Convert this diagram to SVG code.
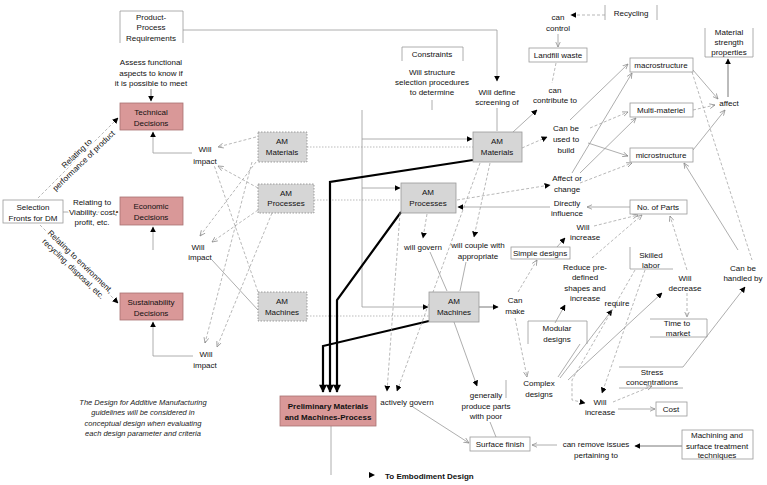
<svg xmlns="http://www.w3.org/2000/svg" width="767" height="485" viewBox="0 0 767 485">
<style>
text{font-family:"Liberation Sans",Arial,sans-serif;font-size:8px;fill:#111;text-anchor:middle}
.b{font-weight:bold}
.i{font-style:italic;font-size:7.5px;fill:#222}
.h{paint-order:stroke;stroke:#fff;stroke-width:3px;stroke-linejoin:round}
.box{fill:#fff;stroke:#999;stroke-width:0.8}
.pk{fill:#d99898;stroke:#a87272;stroke-width:0.8}
.am{fill:#d6d6d6;stroke:#888;stroke-width:0.8;stroke-dasharray:1.5,1.5}
.ln{fill:none;stroke:#999;stroke-width:0.8}
.ds{fill:none;stroke:#999;stroke-width:0.7;stroke-dasharray:3,2}
.dt{fill:none;stroke:#aaa;stroke-width:0.8;stroke-dasharray:1.5,1.5}
.dk{fill:none;stroke:#555;stroke-width:0.8}
.tk{fill:none;stroke:#000;stroke-width:2.2}
.br{fill:none;stroke:#999;stroke-width:0.8}
</style>
<defs>
<marker id="fa" viewBox="0 0 10 10" refX="9" refY="5" markerWidth="6" markerHeight="6" markerUnits="userSpaceOnUse" orient="auto"><path d="M0,0 L10,5 L0,10 z" fill="#000"/></marker>
<marker id="oa" viewBox="0 0 10 10" refX="9" refY="5" markerWidth="6" markerHeight="6" markerUnits="userSpaceOnUse" orient="auto"><path d="M0,1 L9,5 L0,9" fill="none" stroke="#888" stroke-width="1.2"/></marker>
<marker id="ta" viewBox="0 0 10 10" refX="9" refY="5" markerWidth="9" markerHeight="8" markerUnits="userSpaceOnUse" orient="auto"><path d="M0,0 L10,5 L0,10 z" fill="#000"/></marker>
</defs>

<g id="connectors">
<path class="ln" d="M183,30 H497 V81" marker-end="url(#fa)"/>
<path class="dk" d="M151,89 V101" marker-end="url(#fa)"/>
<path class="ln" d="M192,153 H153 V132" marker-end="url(#fa)"/>
<path class="ln" d="M153,250 V227" marker-end="url(#fa)"/>
<path class="ln" d="M193,356 H153 V322" marker-end="url(#fa)"/>
<path class="ds" d="M38,198 L118,118" marker-end="url(#fa)"/>
<path class="ln" d="M63,212 H118" marker-end="url(#fa)"/>
<path class="ds" d="M40,225 L118,303" marker-end="url(#fa)"/>

<path class="ds" d="M256,137 L218,147" marker-end="url(#oa)"/>
<path class="ds" d="M258,188 L218,166" marker-end="url(#oa)"/>
<path class="ds" d="M258,292 L214,165"/>
<path class="ds" d="M256,162 L200,236" marker-end="url(#oa)"/>
<path class="ds" d="M258,210 L212,242" marker-end="url(#oa)"/>
<path class="ln" d="M258,310 L212,260"/>
<path class="ds" d="M252,162 L205,343" marker-end="url(#oa)"/>
<path class="ds" d="M272,213 L217,347" marker-end="url(#oa)"/>

<path class="dt" d="M307,147 H473"/>
<path class="dt" d="M314,200 H401"/>
<path class="dt" d="M307,316 H429"/>
<path class="ln" d="M362,110 V307 H428" marker-end="url(#fa)"/>
<path class="ln" d="M362,139 H472" marker-end="url(#fa)"/>
<path class="ln" d="M362,188 H400" marker-end="url(#fa)"/>
<path class="ln" d="M432,100 V110"/>
<path class="ln" d="M497,108 V131"/>

<path class="tk" d="M473,160 L330,182 V392" marker-end="url(#ta)"/>
<path class="tk" d="M401,212 L337,300 V392" marker-end="url(#ta)"/>
<path class="tk" d="M429,321 L323,346 V392" marker-end="url(#ta)"/>

<path class="ds" d="M605,15 H571" marker-end="url(#fa)"/>
<path class="ln" d="M558,34 V47" marker-end="url(#oa)"/>
<path class="ds" d="M556,63 L552,83"/>
<path class="ln" d="M513,132 L537,110" marker-end="url(#fa)"/>
<path class="ds" d="M522,148 L547,137" marker-end="url(#fa)"/>
<path class="ln" d="M570,120 L628,64" marker-end="url(#oa)"/>
<path class="ln" d="M572,173 L632,73" marker-end="url(#oa)"/>
<path class="ds" d="M590,128 L628,112" marker-end="url(#oa)"/>
<path class="ln" d="M580,173 L636,118" marker-end="url(#oa)"/>
<path class="ln" d="M588,143 L628,156" marker-end="url(#oa)"/>
<path class="ds" d="M580,183 L632,163" marker-end="url(#oa)"/>
<path class="dk" d="M728,97 V59" marker-end="url(#fa)"/>
<path class="ln" d="M693,70 L718,99" marker-end="url(#oa)"/>
<path class="ds" d="M693,110 L715,105" marker-end="url(#oa)"/>
<path class="ln" d="M693,150 L725,110" marker-end="url(#oa)"/>
<path class="ds" d="M692,72 L752,260"/>
<path class="ln" d="M738,250 L684,163" marker-end="url(#oa)"/>
<path class="ln" d="M683,367 L745,287" marker-end="url(#fa)"/>
<path class="ds" d="M457,200 L550,185" marker-end="url(#fa)"/>
<path class="ln" d="M550,207 H458" marker-end="url(#fa)"/>
<path class="ln" d="M630,207 H587" marker-end="url(#oa)"/>
<path class="ds" d="M594,226 L638,215" marker-end="url(#oa)"/>
<path class="ln" d="M557,247 L565,238" marker-end="url(#fa)"/>
<path class="ds" d="M518,292 L537,260" marker-end="url(#oa)"/>
<path class="dk" d="M479,307 H498" marker-end="url(#fa)"/>
<path class="ds" d="M592,258 L642,215" marker-end="url(#oa)"/>
<path class="ln" d="M555,323 L565,305" marker-end="url(#fa)"/>
<path class="ds" d="M515,318 L527,377" marker-end="url(#oa)"/>
<path class="ln" d="M580,344 L558,377"/>
<path class="ln" d="M560,378 L612,310" marker-end="url(#fa)"/>
<path class="ln" d="M568,380 L662,293" marker-end="url(#fa)"/>
<path class="ds" d="M687,270 L670,216" marker-end="url(#oa)"/>
<path class="ds" d="M687,293 V317" marker-end="url(#oa)"/>
<path class="ds" d="M645,270 L602,393" marker-end="url(#fa)"/>
<path class="ds" d="M635,270 L572,380 V400 L585,403" marker-end="url(#fa)"/>
<path class="ds" d="M613,402 L652,386" marker-end="url(#oa)"/>
<path class="ln" d="M618,409 H655" marker-end="url(#oa)"/>
<path class="ln" d="M454,322 L477,386" marker-end="url(#fa)"/>
<path class="ln" d="M490,422 L496,437"/>
<path class="ds" d="M400,213 L387,391" marker-end="url(#fa)"/>
<path class="ds" d="M480,163 L397,391" marker-end="url(#fa)"/>
<path class="ds" d="M490,163 L474,237" marker-end="url(#fa)"/>
<path class="ds" d="M427,214 L423,238" marker-end="url(#fa)"/>
<path class="ln" d="M430,252 L447,291"/>
<path class="ln" d="M466,262 L460,291"/>
<path class="ln" d="M413,407 L469,443" marker-end="url(#oa)"/>
<path class="ln" d="M557,445 H532" marker-end="url(#oa)"/>
<path class="dk" d="M682,446 H635" marker-end="url(#fa)"/>
<path class="ln" d="M331,426 V475"/>
<path d="M369,472 L375,475 L369,478 z" fill="#000"/>
</g>

<g id="product-process-requirements">
<path class="br" d="M120,43 V11 H183 V43"/>
<text x="151" y="20">Product-</text><text x="151" y="30">Process</text><text x="151" y="41">Requirements</text>
</g>
<g id="assess-label"><text x="151" y="65">Assess functional</text><text x="151" y="76">aspects to know if</text><text x="151" y="86">it is possible to meet</text></g>
<g id="technical-decisions"><rect class="pk" x="120" y="103" width="63" height="27"/><text x="151" y="115" fill="#333">Technical</text><text x="151" y="126">Decisions</text></g>
<g id="economic-decisions"><rect class="pk" x="120" y="197" width="63" height="28"/><text x="151" y="209">Economic</text><text x="151" y="220">Decisions</text></g>
<g id="sustainability-decisions"><rect class="pk" x="120" y="293" width="63" height="27"/><text x="151" y="305">Sustainability</text><text x="151" y="316">Decisions</text></g>
<g id="selection-fronts"><rect class="box" x="3" y="200" width="60" height="23"/><text x="33" y="210">Selection</text><text x="33" y="221">Fronts for DM</text></g>
<g id="label-performance" transform="translate(80,157) rotate(-44)"><text class="h" x="0" y="-2">Relating to</text><text class="h" x="0" y="8">performance of product</text></g>
<g id="label-viability"><text class="h" x="92" y="205">Relating to</text><text class="h" x="93" y="215">Viability. cost,</text><text class="h" x="92" y="225">profit, etc.</text></g>
<g id="label-environment" transform="translate(77,265) rotate(44)"><text class="h" x="0" y="-2">Relating to environment,</text><text class="h" x="0" y="8">recycling, disposal, etc.</text></g>
<g id="will-impact-1"><text x="205" y="152">Will</text><text x="205" y="164">impact</text></g>
<g id="will-impact-2"><text x="198" y="250">Will</text><text x="200" y="260">impact</text></g>
<g id="will-impact-3"><text x="206" y="357">Will</text><text x="205" y="368">impact</text></g>

<g id="am-materials-left"><rect class="am" x="258" y="132" width="49" height="30"/><text x="282" y="144">AM</text><text x="282" y="155">Materials</text></g>
<g id="am-processes-left"><rect class="am" x="258" y="184" width="56" height="29"/><text x="286" y="196">AM</text><text x="286" y="206">Processes</text></g>
<g id="am-machines-left"><rect class="am" x="258" y="292" width="49" height="29"/><text x="282" y="304">AM</text><text x="282" y="315">Machines</text></g>

<g id="constraints"><path class="br" d="M402,61 V47 H463 V61"/><text x="432" y="57">Constraints</text><text x="432" y="75">Will structure</text><text x="432" y="85">selection procedures</text><text x="432" y="95">to determine</text></g>
<g id="will-define"><text x="497" y="95">Will define</text><text x="497" y="105">screening of</text></g>

<g id="am-materials-right"><rect x="473" y="132" width="49" height="30" fill="#d6d6d6" stroke="#999" stroke-width="0.8"/><text x="497" y="144">AM</text><text x="497" y="155">Materials</text></g>
<g id="am-processes-right"><rect x="401" y="183" width="55" height="30" fill="#d6d6d6" stroke="#999" stroke-width="0.8"/><text x="428" y="195">AM</text><text x="428" y="206">Processes</text></g>
<g id="am-machines-right"><rect x="429" y="292" width="50" height="30" fill="#d6d6d6" stroke="#999" stroke-width="0.8"/><text x="454" y="304">AM</text><text x="454" y="315">Machines</text></g>

<g id="recycling"><path class="br" d="M605,5 V20 M657,5 V20"/><text x="631" y="16">Recycling</text></g>
<g id="can-control"><text x="558" y="20">can</text><text x="558" y="31">control</text></g>
<g id="landfill-waste"><rect class="box" x="529" y="48" width="58" height="14"/><text x="558" y="58">Landfill waste</text></g>
<g id="can-contribute"><text x="555" y="93">can</text><text x="555" y="103">contribute to</text></g>
<g id="can-be-used"><text x="566" y="131">Can be</text><text x="566" y="142">used to</text><text x="566" y="153">build</text></g>
<g id="material-strength"><path class="br" d="M705,28 V57 H753 V28"/><text x="729" y="35">Material</text><text x="729" y="45">strength</text><text x="729" y="55">properties</text></g>
<g id="macrostructure"><rect class="box" x="630" y="58" width="63" height="14"/><text x="661" y="68">macrostructure</text></g>
<g id="multi-materiel"><rect class="box" x="630" y="103" width="63" height="14"/><text x="661" y="113">Multi-materiel</text></g>
<g id="microstructure"><rect class="box" x="630" y="148" width="63" height="14"/><text x="661" y="158">microstructure</text></g>
<g id="affect"><text x="729" y="106">affect</text></g>
<g id="can-be-handled"><text x="743" y="271">Can be</text><text x="743" y="281">handled by</text></g>
<g id="affect-or-change"><text x="567" y="181">Affect or</text><text x="567" y="192">change</text></g>
<g id="directly-influence"><text x="567" y="206">Directly</text><text x="567" y="216">influence</text></g>
<g id="no-of-parts"><rect class="box" x="630" y="200" width="57" height="14"/><text x="658" y="210">No. of Parts</text></g>
<g id="will-increase-1"><text x="583" y="230">Will</text><text x="585" y="240">increase</text></g>
<g id="simple-designs"><rect class="box" x="511" y="247" width="59" height="12"/><text x="540" y="256">Simple designs</text></g>
<g id="can-make"><text x="515" y="303">Can</text><text x="515" y="314">make</text></g>
<g id="reduce"><text x="585" y="270">Reduce pre-</text><text x="585" y="280">defined</text><text x="585" y="291">shapes and</text><text x="585" y="301">increase</text></g>
<g id="modular-designs"><path class="br" d="M528,344 V321 H587 V344"/><text x="557" y="331">Modular</text><text x="557" y="342">designs</text></g>
<g id="skilled-labor"><path class="br" d="M630,247 V269 H673"/><text x="651" y="258">Skilled</text><text x="651" y="268">labor</text></g>
<g id="require"><text x="617" y="306">require</text></g>
<g id="will-decrease"><text x="685" y="281">Will</text><text x="685" y="291">decrease</text></g>
<g id="time-to-market"><path class="br" d="M650,319 H707 V337 H650"/><text x="677" y="326">Time to</text><text x="678" y="336">market</text></g>
<g id="stress-concentrations"><path class="br" d="M619,367 H683 M619,388 H683"/><text x="652" y="375">Stress</text><text x="652" y="385">concentrations</text></g>
<g id="complex-designs"><text x="539" y="386">Complex</text><text x="539" y="397">designs</text></g>
<g id="will-increase-2"><text x="600" y="405">Will</text><text x="600" y="415">increase</text></g>
<g id="cost"><rect class="box" x="656" y="402" width="31" height="14"/><text x="671" y="412">Cost</text></g>
<g id="will-govern"><text x="423" y="250">will govern</text></g>
<g id="will-couple"><text x="478" y="248">will couple with</text><text x="478" y="259">appropriate</text></g>
<g id="generally-produce"><path class="br" d="M506,380 V398"/><text x="486" y="398">generally</text><text x="486" y="409">produce parts</text><text x="486" y="419">with poor</text></g>
<g id="actively-govern"><text x="407" y="405">actively govern</text></g>
<g id="surface-finish"><rect class="box" x="470" y="437" width="60" height="14"/><text x="500" y="447">Surface finish</text></g>
<g id="can-remove"><text x="596" y="447">can remove issues</text><text x="596" y="458">pertaining to</text></g>
<g id="machining"><rect class="box" x="682" y="430" width="71" height="29"/><text x="717" y="438">Machining and</text><text x="717" y="449">surface treatment</text><text x="717" y="458">techniques</text></g>
<g id="preliminary"><rect class="pk" x="280" y="396" width="96" height="30"/><text class="b" x="328" y="409">Preliminary Materials</text><text class="b" x="328" y="420">and  Machines-Process</text></g>
<g id="embodiment"><text class="b" x="385" y="479" text-anchor="start" style="text-anchor:start">To Embodiment Design</text></g>
<g id="dfam-note"><text class="i" x="143" y="405">The Design for Additive Manufacturing</text><text class="i" x="143" y="415">guidelines will be considered in</text><text class="i" x="143" y="426">conceptual design when evaluating</text><text class="i" x="143" y="436">each design parameter and criteria</text></g>
</svg>
